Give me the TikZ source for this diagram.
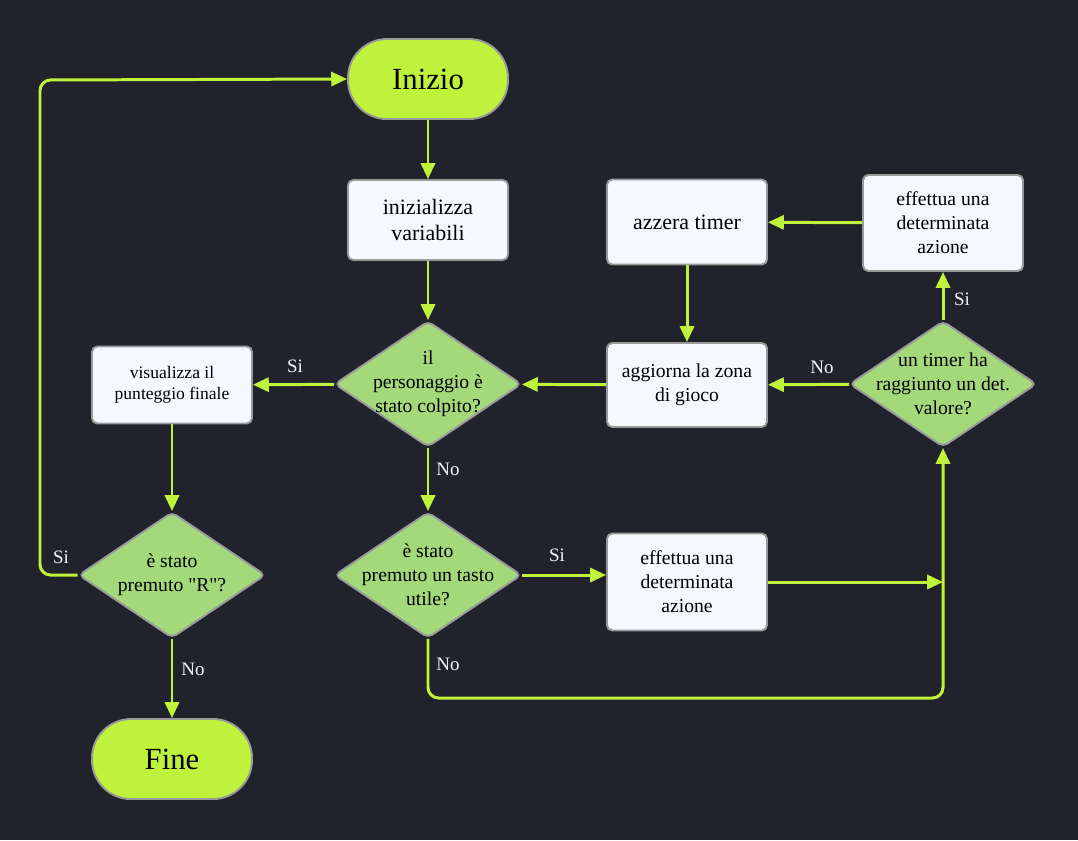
\documentclass[tikz,border=0pt]{standalone}
\usepackage{fontspec}
\setmainfont{Liberation Serif}[Ligatures=TeXOff]
\usetikzlibrary{arrows.meta,shapes.geometric}
\definecolor{bgdark}{HTML}{21232C}
\definecolor{lime}{HTML}{BFF23A}
\definecolor{decgreen}{HTML}{A3D97A}
\definecolor{boxwhite}{HTML}{F5F9FF}
\definecolor{edgegray}{HTML}{9A9A9A}
\tikzset{
  >={Triangle[length=9pt,width=8pt]},
  term/.style={rectangle, rounded corners=0.78cm, draw=edgegray, line width=1.1pt, fill=lime, minimum width=3.2cm, minimum height=1.6cm, font=\fontsize{17.5}{20}\selectfont},
  proc/.style={rectangle, rounded corners=3pt, draw=edgegray, line width=1.1pt, fill=boxwhite, minimum width=3.2cm, align=center, font=\fontsize{11.2}{13.6}\selectfont},
  dec/.style={diamond, aspect=1.5, rounded corners=3pt, draw=edgegray, line width=1.1pt, fill=decgreen, inner sep=-8pt, minimum width=3.74cm, minimum height=2.52cm, align=center, font=\fontsize{11.2}{13.6}\selectfont},
  flow/.style={->, draw=lime, line width=1.7pt},
  lbl/.style={font=\fontsize{10.8}{12}\selectfont, text=white!92!gray}
}
\begin{document}
\begin{tikzpicture}[x=0.02cm, y=-0.02cm]
    % Background
    \fill[bgdark] (0, 0) rectangle (1078, 840);
    \useasboundingbox (0, 0) rectangle (1078, 840);

    % Left column
    \node[term] (start) at (428, 79) {Inizio};
    \node[proc, minimum height=1.6cm, font=\fontsize{12.5}{14.5}\selectfont] (init) at (428, 220) {inizializza\\variabili};
    \node[dec] (hit) at (428, 384) {il\\personaggio è\\stato colpito?};
    \node[proc, minimum height=1.54cm, font=\fontsize{10}{12}\selectfont] (score) at (172, 385) {visualizza il\\punteggio finale};
    \node[dec] (restart) at (172, 575) {è stato\\premuto "R"?};
    \node[term] (stop) at (172, 759) {Fine};
    \node[dec] (key) at (428, 575) {è stato\\premuto un tasto\\utile?};

    % Right part
    \node[proc, minimum height=1.94cm] (act1) at (687, 582) {effettua una\\determinata\\azione};
    \node[proc, minimum height=1.68cm] (update) at (687, 385) {aggiorna la zona\\di gioco};
    \node[proc, minimum height=1.7cm, font=\fontsize{12.5}{14.5}\selectfont] (reset) at (687, 222) {azzera timer};
    \node[proc, minimum height=1.92cm] (act2) at (943, 223) {effettua una\\determinata\\azione};
    \node[dec] (timer) at (943, 384) {un timer ha\\raggiunto un det.\\valore?};
    \coordinate (join) at (943, 582);

    % Connectors
    \draw[flow] (start) -- (init);
    \draw[flow] (init) -- (hit);
    \draw[flow] (hit) -- (score);
    \draw[flow] (hit) -- (key);
    \draw[flow] (score) -- (restart);
    \draw[flow] (restart) -- (stop);
    \draw[flow, rounded corners=6pt] (restart.west) -- (40, 575) -- (40, 80) -- (start.west);
    \draw[flow] (key.east) -- (act1.west |- key.east);
    \draw[flow, rounded corners=6pt] (key.south) -- (428, 698) -- (943, 698) -- (timer.south);
    \draw[flow] (act1) -- (join);
    \draw[flow] (timer) -- (update);
    \draw[flow] (timer) -- (act2);
    \draw[flow] (act2) -- (reset);
    \draw[flow] (reset) -- (update);
    \draw[flow] (update) -- (hit);

    % Labels
    \node[lbl] at (295, 366) {Si};
    \node[lbl] at (448, 469) {No};
    \node[lbl] at (61, 557) {Si};
    \node[lbl] at (193, 669) {No};
    \node[lbl] at (557, 555) {Si};
    \node[lbl] at (448, 664) {No};
    \node[lbl] at (822, 367) {No};
    \node[lbl] at (962, 299) {Si};
\end{tikzpicture}
\end{document}
